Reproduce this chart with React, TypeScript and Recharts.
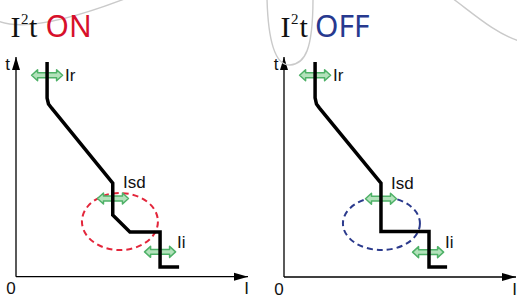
import React from 'react';
import { ComposedChart, Line, XAxis, YAxis, ReferenceLine, ReferenceDot } from 'recharts';

// Trip curves in relative units (0-100 on both axes)
const onCurrent = [13.4, 13.4, 14.0, 15.3, 41.7, 41.7, 49.1, 62.1, 62.1, 70.3];
const onTime = [97.7, 81.3, 78.6, 76.8, 42.6, 28.1, 20.4, 20.4, 4.4, 4.4];
const offCurrent = [13.4, 13.4, 14.0, 15.3, 41.8, 41.8, 62.5, 62.5, 70.3];
const offTime = [97.7, 81.4, 78.6, 76.8, 42.7, 20.7, 20.7, 4.5, 4.5];

// Adjustable settings (green double arrows)
const settingNames = ['Ir', 'Isd', 'Ii'];
const settingCurrent = [13.4, 41.8, 62.1];
const settingTime = [91.7, 35.6, 11.3];

// Dashed zone around the short-time delay, [ON, OFF]
const zoneCurrent = [44.8, 42.0];
const zoneTime = [25.1, 24.3];

const SANS = '"Liberation Sans", Arial, sans-serif';
const SERIF = '"Liberation Serif", serif';

const toPoints = (current: number[], time: number[]) =>
  current.map((i, k) => ({ i, t: time[k] }));

// label offsets from the arrow centre, px
const labelOffset: Record<string, [number, number]> = {
  Ir: [18, 5.5],
  Isd: [10, -10],
  Ii: [17, -4],
};

const SettingArrow = ({ cx, cy }: any) => {
  const pts = [
    [-15.5, 0], [-9.5, -5.5], [-9.5, -2.4], [9.5, -2.4], [9.5, -5.5],
    [15.5, 0], [9.5, 5.5], [9.5, 2.4], [-9.5, 2.4], [-9.5, 5.5],
  ]
    .map(([x, y]) => `${cx + x},${cy + y}`)
    .join(' ');
  return <polygon points={pts} fill="#b3e2bb" stroke="#4fb168" strokeWidth={1.5} strokeLinejoin="round" />;
};

const textShape = (label: string, dx: number, dy: number, anchor = 'start') => ({ cx, cy }: any) => (
  <text x={cx + dx} y={cy + dy} fontSize={17} fontFamily={SANS} fill="#111" textAnchor={anchor}>
    {label}
  </text>
);

const ArrowRight = ({ cx, cy }: any) => (
  <polygon points={`${cx},${cy} ${cx - 14},${cy - 4} ${cx - 14},${cy + 4}`} fill="#000" />
);
const ArrowUp = ({ cx, cy }: any) => (
  <polygon points={`${cx},${cy} ${cx - 4},${cy + 13} ${cx + 4},${cy + 13}`} fill="#000" />
);

interface PanelProps {
  data: { i: number; t: number }[];
  zone: number;
  zoneColor: string;
  zoneRadius: [number, number];
  left: number;
  width: number;
  margin: { top: number; right: number; bottom: number; left: number };
  tDx: number;
}

function TripPanel({ data, zone, zoneColor, zoneRadius, left, width, margin, tDx }: PanelProps) {
  const [rx, ry] = zoneRadius;
  return (
    <div style={{ position: 'absolute', left, top: 0 }}>
      <ComposedChart width={width} height={298} margin={margin}>
        <XAxis type="number" dataKey="i" domain={[0, 100]} hide />
        <YAxis type="number" domain={[0, 100]} hide />

        <ReferenceLine y={0} stroke="#000" strokeWidth={1.3} />
        <ReferenceLine x={0} stroke="#000" strokeWidth={1.3} />
        <ReferenceDot x={100} y={0} r={0} shape={ArrowRight} />
        <ReferenceDot x={0} y={100} r={0} shape={ArrowUp} />
        <ReferenceDot x={0} y={0} r={0} shape={textShape('0', -5, 17.5, 'middle')} />
        <ReferenceDot x={100} y={0} r={0} shape={textShape('I', -1.5, 17.5, 'middle')} />
        <ReferenceDot x={0} y={100} r={0} shape={textShape('t', tDx, 13, 'middle')} />

        <ReferenceDot
          x={zoneCurrent[zone]}
          y={zoneTime[zone]}
          r={0}
          zIndex={350}
          shape={({ cx, cy }: any) => (
            <ellipse cx={cx} cy={cy} rx={rx} ry={ry} fill="none" stroke={zoneColor} strokeWidth={2} strokeDasharray="6 4" />
          )}
        />

        {settingNames.map((name, k) => (
          <ReferenceDot key={name} x={settingCurrent[k]} y={settingTime[k]} r={0} zIndex={350} shape={SettingArrow} />
        ))}
        {settingNames.map((name, k) => (
          <ReferenceDot
            key={`${name}-label`}
            x={settingCurrent[k]}
            y={settingTime[k]}
            r={0}
            shape={textShape(name, labelOffset[name][0], labelOffset[name][1])}
          />
        ))}

        <Line
          data={data}
          dataKey="t"
          type="linear"
          stroke="#000"
          strokeWidth={3.5}
          strokeLinejoin="miter"
          dot={false}
          activeDot={false}
          isAnimationActive={false}
        />
      </ComposedChart>
    </div>
  );
}

export default function App() {
  return (
    <div style={{ position: 'absolute', left: 0, top: 0, width: 517, height: 298, background: '#fff', overflow: 'hidden' }}>
      <TripPanel
        data={toPoints(onCurrent, onTime)}
        zone={0}
        zoneColor="#e3263b"
        zoneRadius={[38, 28.5]}
        left={0}
        width={258}
        margin={{ top: 57, right: 10, bottom: 21.3, left: 16 }}
        tDx={-8.5}
      />
      <TripPanel
        data={toPoints(offCurrent, offTime)}
        zone={1}
        zoneColor="#2b3a8c"
        zoneRadius={[38.5, 26.5]}
        left={258}
        width={259}
        margin={{ top: 57, right: 1, bottom: 21, left: 26 }}
        tDx={-8}
      />

      {/* titles and the faint hand-drawn marks from the source slide */}
      <svg width={517} height={298} style={{ position: 'absolute', left: 0, top: 0, pointerEvents: 'none' }}>
        <g fill="none" stroke="#cacaca" strokeWidth={1.4}>
          <path d="M -2 21 C 25 32, 75 18, 127 -2" />
          <path d="M 267 -2 C 268 40, 275 66, 290 65 C 305 64, 313 50, 313 -2" />
          <path d="M 452 -2 C 475 15, 495 33, 519 41" />
        </g>
        <text y={36.5} fontSize={30} fill="#111" fontFamily={SERIF}>
          <tspan x={10.5}>I</tspan>
          <tspan x={21} y={24} fontSize={15}>2</tspan>
          <tspan x={29} y={36.5}>t</tspan>
          <tspan x={45.5} fill="#d7102b" fontFamily='"Noto Sans", sans-serif'>ON</tspan>
        </text>
        <text y={36.5} fontSize={30} fill="#111" fontFamily={SERIF}>
          <tspan x={280.5}>I</tspan>
          <tspan x={291} y={24} fontSize={15}>2</tspan>
          <tspan x={299.5} y={36.5}>t</tspan>
          <tspan x={315} fill="#27398f" fontFamily='"Noto Sans", sans-serif'>OFF</tspan>
        </text>
      </svg>
    </div>
  );
}
